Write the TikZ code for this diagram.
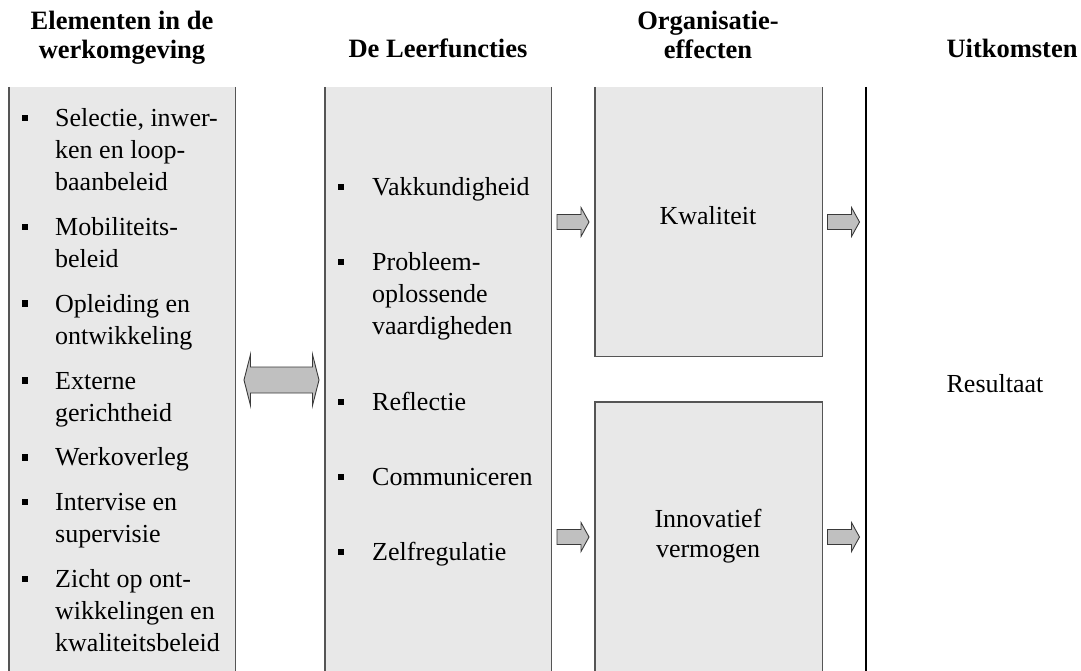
\documentclass[tikz,border=0pt]{standalone}
\usepackage{fontspec}
\setmainfont{Liberation Serif}
\usetikzlibrary{calc}
\definecolor{panelgray}{HTML}{E8E8E8}
\definecolor{edgegray}{HTML}{555555}
\definecolor{arrowfill}{HTML}{C0C0C0}
\definecolor{arrowedge}{HTML}{3A3A3A}
\begin{document}
\begin{tikzpicture}[x=1pt,y=1pt,
  panel/.style={fill=panelgray, draw=none, inner sep=0pt, anchor=north west},
  edge/.style={draw=edgegray, line width=1.4pt},
  blockarrow/.style={fill=arrowfill, draw=arrowedge, line width=0.9pt, line join=miter},
  body/.style={font=\fontsize{26}{32}\selectfont, inner sep=0pt, align=left, anchor=north west},
  label/.style={font=\fontsize{26}{30}\selectfont, inner sep=0pt, align=center},
  head/.style={font=\bfseries\fontsize{26.5}{29}\selectfont, inner sep=0pt, align=center},
  sq/.style={fill=black, minimum size=6.5pt, inner sep=0pt},
  rblock/.pic={\draw[blockarrow] (-16,7.5) -- (8,7.5) -- (8,14.5) -- (16,0)
      -- (8,-14.5) -- (8,-7.5) -- (-16,-7.5) -- cycle;},
  dblock/.pic={\draw[blockarrow] (-37.5,0) -- (-31,25.5) -- (-31,13) -- (31,13)
      -- (31,25.5) -- (37.5,0) -- (31,-25.5) -- (31,-13) -- (-31,-13)
      -- (-31,-25.5) -- cycle;}
]
\useasboundingbox (0,0) rectangle (1081,-671);

% column panels
\node[panel, minimum width=226, minimum height=584] (envbox) at (9,-87) {};
\node[panel, minimum width=226, minimum height=584] (funbox) at (325,-87) {};
\node[panel, minimum width=227, minimum height=269] (qbox) at (595,-87) {};
\node[panel, minimum width=227, minimum height=269] (ibox) at (595,-402) {};
\coordinate (outtop) at (866,-87);
\coordinate (outbot) at (866,-671);

\draw[edge] (envbox.north west) -- (envbox.south west);
\draw[edge] (envbox.north east) -- (envbox.south east);
\draw[edge] (funbox.north west) -- (funbox.south west);
\draw[edge] (funbox.north east) -- (funbox.south east);
\draw[edge] (qbox.north west) -- (qbox.south west) -- (qbox.south east) -- (qbox.north east);
\draw[edge] (ibox.south west) -- (ibox.north west) -- (ibox.north east) -- (ibox.south east);
\draw[line width=1.4pt, black] (outtop) -- (outbot);

% headings
\node[head, anchor=north] (h1) at (122,-8.7) {\strut Elementen in de\\werkomgeving};
\node[head, anchor=base] (h2) at (438,-58) {De Leerfuncties};
\node[head, anchor=north] (h3) at (708,-8.7) {\strut Organisatie-\\effecten};
\node[head, anchor=base] (h4) at (1012,-58) {Uitkomsten};

% elements in the work environment
\node[body] (e1) at (55,-104.1) {\strut Selectie, inwer-\\ken en loop-\\baanbeleid};
\node[body] (e2) at (55,-212.9) {\strut Mobiliteits-\\beleid};
\node[body] (e3) at (55,-289.7) {\strut Opleiding en\\ontwikkeling};
\node[body] (e4) at (55,-366.5) {\strut Externe\\gerichtheid};
\node[body] (e5) at (55,-443.3) {\strut Werkoverleg};
\node[body] (e6) at (55,-488.1) {\strut Intervise en\\supervisie};
\node[body] (e7) at (55,-564.9) {\strut Zicht op ont-\\wikkelingen en\\kwaliteitsbeleid};
\foreach \i in {1,...,7}
  \node[sq] (eb\i) at ($(e\i.north west)+(-30,-14)$) {};

% learning functions
\node[body] (m1) at (372,-173.1) {\strut Vakkundigheid};
\node[body] (m2) at (372,-248.1) {\strut Probleem-\\oplossende\\vaardigheden};
\node[body] (m3) at (372,-388.1) {\strut Reflectie};
\node[body] (m4) at (372,-463.1) {\strut Communiceren};
\node[body] (m5) at (372,-538.1) {\strut Zelfregulatie};
\foreach \i in {1,...,5}
  \node[sq] (mb\i) at ($(m\i.north west)+(-31,-14)$) {};

% organisational effects and outcome
\node[label, anchor=base] (kw) at (708,-225) {Kwaliteit};
\node[label, anchor=north] (iv) at (708,-506) {\strut Innovatief\\vermogen};
\node[label, anchor=base] (res) at (995,-392) {Resultaat};

% block arrows
\pic (dbl) at (281.5,-380) {dblock};
\pic (q1) at (573,-222) {rblock};
\pic (q2) at (843.5,-222) {rblock};
\pic (i1) at (573,-537) {rblock};
\pic (i2) at (843.5,-537) {rblock};
\end{tikzpicture}
\end{document}
